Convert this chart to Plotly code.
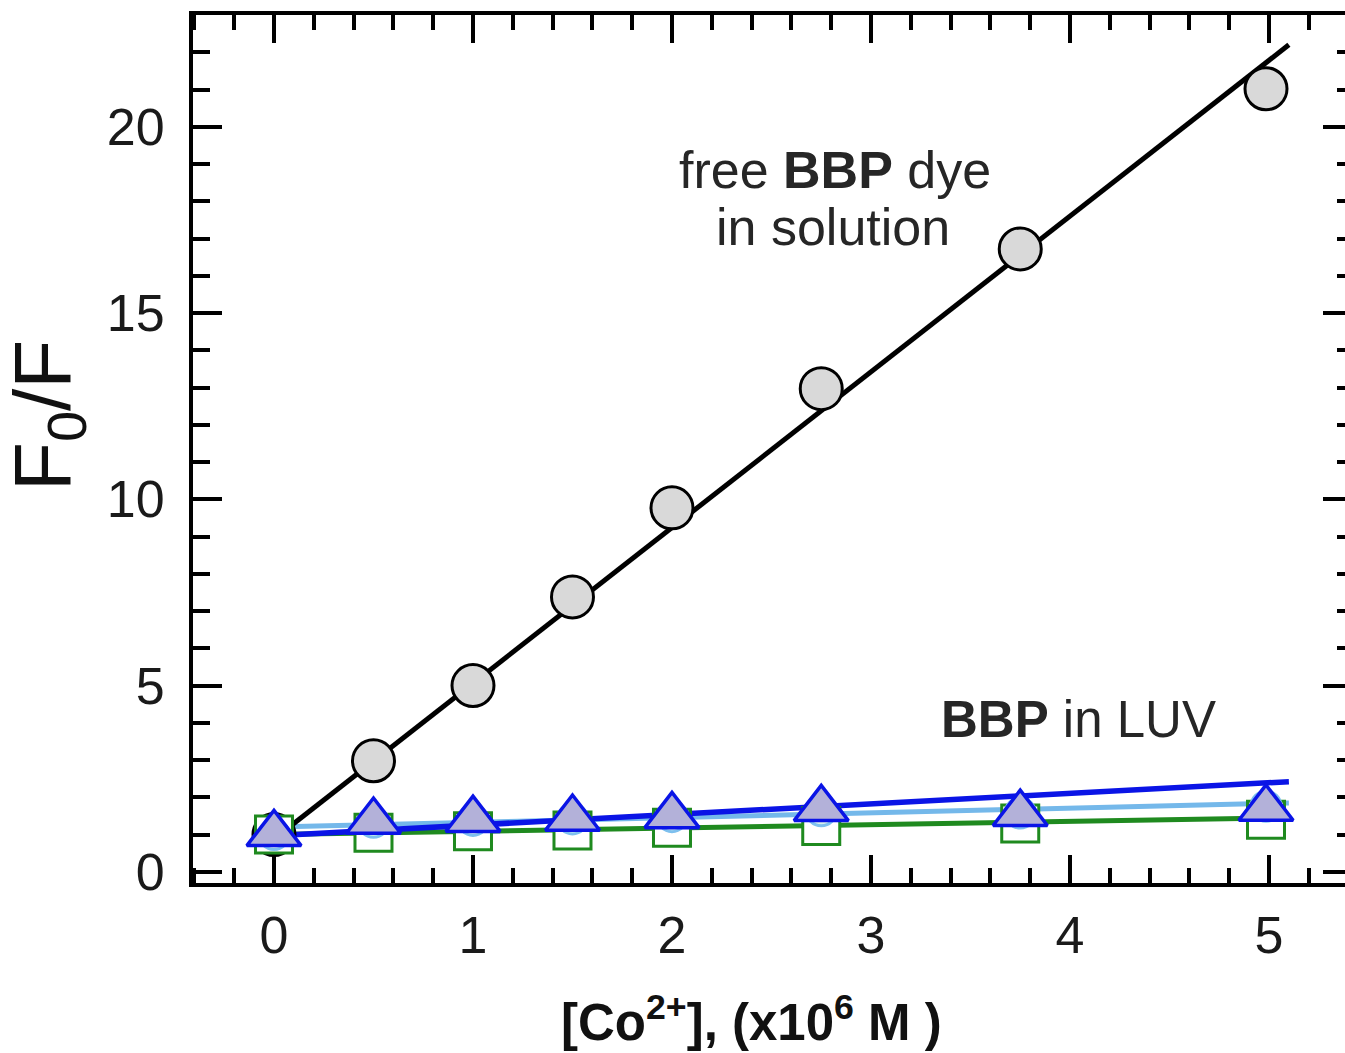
import plotly.graph_objects as go

# ---- data ----
conc = [0, 0.5, 1, 1.5, 2, 2.75, 3.75, 4.985]
free_dye = [1.0, 2.98, 5.0, 7.38, 9.77, 12.97, 16.72, 21.02]
luv_square = [1.0, 1.05, 1.09, 1.11, 1.18, 1.23, 1.30, 1.40]
luv_circle = [1.0, 1.33, 1.38, 1.42, 1.48, 1.64, 1.58, 1.76]
luv_triangle = [1.02, 1.35, 1.40, 1.43, 1.50, 1.69, 1.56, 1.70]

fit_x = [0, 5.1]
free_fit = [0.88, 22.2]
square_fit = [1.0, 1.45]
circle_fit = [1.2, 1.85]
triangle_fit = [0.97, 2.42]

x_ticks = [0, 1, 2, 3, 4, 5]
y_ticks = [0, 5, 10, 15, 20]

X_RANGE = [-0.407, 5.382]
Y_RANGE = [-0.3, 23.0]

FONT = "Liberation Sans, Arial, sans-serif"

fig = go.Figure()

# fit lines
fig.add_trace(go.Scatter(x=fit_x, y=square_fit, mode="lines",
                         line=dict(color="#1f8a1f", width=5)))
fig.add_trace(go.Scatter(x=fit_x, y=circle_fit, mode="lines",
                         line=dict(color="#74b8ea", width=5)))
fig.add_trace(go.Scatter(x=fit_x, y=triangle_fit, mode="lines",
                         line=dict(color="#0a14e6", width=5.5)))
fig.add_trace(go.Scatter(x=fit_x, y=free_fit, mode="lines",
                         line=dict(color="#000000", width=5)))

# markers
fig.add_trace(go.Scatter(x=conc, y=free_dye, mode="markers",
                         marker=dict(symbol="circle", size=42, color="#d9d9d9",
                                     line=dict(color="#000000", width=3))))
fig.add_trace(go.Scatter(x=conc, y=luv_square, mode="markers",
                         marker=dict(symbol="square", size=37, color="#ffffff",
                                     line=dict(color="#1f8a1f", width=3))))
fig.add_trace(go.Scatter(x=conc, y=luv_circle, mode="markers",
                         marker=dict(symbol="circle", size=30, color="#d8f1ea",
                                     line=dict(color="#7ec0ee", width=3))))
fig.add_trace(go.Scatter(x=conc, y=luv_triangle, mode="markers",
                         marker=dict(symbol="triangle-up", size=47, color="#b3b1d9",
                                     line=dict(color="#0a14e6", width=3.5))))

# invisible trace to hold the right-hand tick axis
fig.add_trace(go.Scatter(x=[X_RANGE[0]], y=[Y_RANGE[0]], mode="markers",
                         marker=dict(opacity=0), yaxis="y2", hoverinfo="skip"))

fig.update_layout(
    width=1345, height=1053,
    margin=dict(l=193, r=0, t=15, b=170),
    paper_bgcolor="white", plot_bgcolor="white",
    showlegend=False,
    font=dict(family=FONT, color="#1a1a1a"),
    xaxis=dict(range=X_RANGE, tickvals=x_ticks, ticks="inside", ticklen=28, tickwidth=3.5,
               tickcolor="black", showline=True, linewidth=4, linecolor="black",
               mirror="ticks", showgrid=False, zeroline=False,
               tickfont=dict(size=52, family=FONT, color="#1a1a1a"),
               ticklabelstandoff=4,
               minor=dict(dtick=0.2, tick0=0, ticks="inside", ticklen=15, tickwidth=3.5,
                          tickcolor="black", showgrid=False)),
    yaxis=dict(range=Y_RANGE, tickvals=y_ticks, ticks="inside", ticklen=29, tickwidth=3.5,
               tickcolor="black", showline=True, linewidth=4, linecolor="black",
               mirror=False, showgrid=False, zeroline=False,
               tickfont=dict(size=52, family=FONT, color="#1a1a1a"),
               ticklabelstandoff=14,
               minor=dict(dtick=1, tick0=0, ticks="inside", ticklen=17, tickwidth=3.5,
                          tickcolor="black", showgrid=False)),
    yaxis2=dict(range=Y_RANGE, overlaying="y", side="right", anchor="x",
                tickvals=y_ticks, ticks="inside", ticklen=22, tickwidth=3.5,
                tickcolor="black", showline=False, showgrid=False, zeroline=False,
                showticklabels=False,
                minor=dict(dtick=1, tick0=0, ticks="inside", ticklen=8, tickwidth=3.5,
                           tickcolor="black", showgrid=False)),
)

# text labels
fig.add_annotation(x=2.82, y=18.85, xref="x", yref="y", showarrow=False,
                   xanchor="center", yanchor="middle",
                   text="free <b>BBP</b> dye", font=dict(size=52, family=FONT, color="#262626"))
fig.add_annotation(x=2.81, y=17.3, xref="x", yref="y", showarrow=False,
                   xanchor="center", yanchor="middle",
                   text="in solution", font=dict(size=52, family=FONT, color="#262626"))
fig.add_annotation(x=4.045, y=4.1, xref="x", yref="y", showarrow=False,
                   xanchor="center", yanchor="middle",
                   text="<b>BBP</b> in LUV", font=dict(size=51, family=FONT, color="#262626"))

# axis titles
fig.add_annotation(x=-0.126, y=0.539, xref="paper", yref="paper", showarrow=False,
                   xanchor="center", yanchor="middle",
                   textangle=-90, text="F<sub>0</sub>/F",
                   font=dict(size=80, family=FONT, color="#111111"))
fig.add_annotation(x=0.485, y=-0.157, xref="paper", yref="paper", showarrow=False,
                   xanchor="center", yanchor="middle",
                   text="<b>[Co<sup>2+</sup>], (x10<sup>6</sup> M )</b>",
                   font=dict(size=51, family=FONT, color="#111111"))

fig.write_html("out.html")
